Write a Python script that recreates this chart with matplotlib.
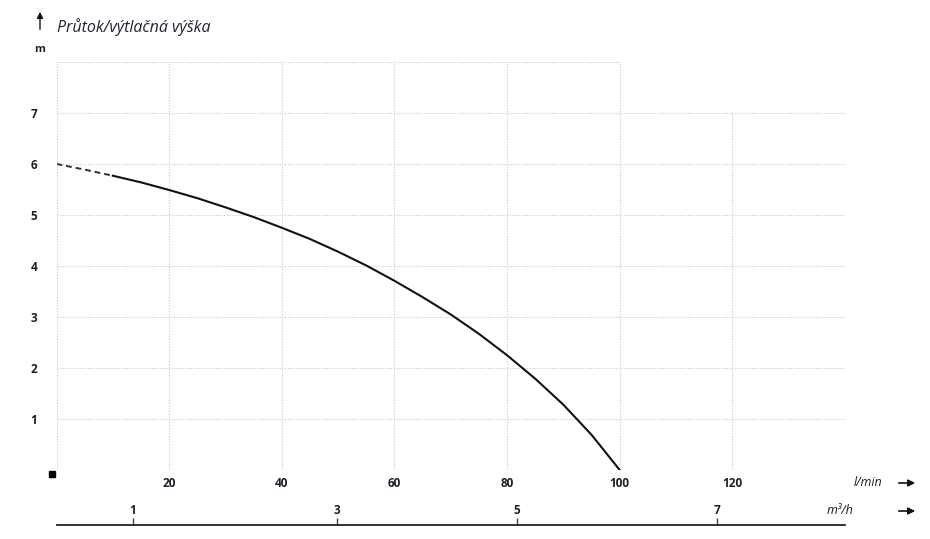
import numpy as np
import matplotlib.pyplot as plt
from matplotlib.lines import Line2D

plt.rcParams['font.family'] = ['Open Sans', 'DejaVu Sans']

# Pump curve (flow l/min vs head m)
flow = [0, 5, 10, 15, 20, 25, 30, 35, 40, 45, 50, 55, 60, 65, 70, 75, 80,
        85, 90, 95, 100]
head = [6.0, 5.89, 5.77, 5.64, 5.49, 5.33, 5.15, 4.96, 4.75, 4.53, 4.28,
        4.01, 3.71, 3.39, 3.05, 2.67, 2.25, 1.79, 1.28, 0.69, 0.0]
dash_end = 10  # curve is dashed below this flow

x_ticks = [20, 40, 60, 80, 100, 120]
y_ticks = [1, 2, 3, 4, 5, 6, 7]
m3h_labels = ['1', '3', '5', '7']
m3h_pos = [13.6, 49.8, 81.8, 117.2]  # positions on the l/min scale

W, H = 930, 539
fig = plt.figure(figsize=(9.3, 5.39), dpi=100)
left, right, bottom, top = 56.5 / W, 845 / W, (H - 470) / H, (H - 62) / H
ax = fig.add_axes([left, bottom, right - left, top - bottom])
ax.set_xlim(0, 140)
ax.set_ylim(0, 8)
for s in ax.spines.values():
    s.set_visible(False)

gkw = dict(color='#c8c8c8', lw=0.8, ls=(0, (1, 1.5)), zorder=0)
for x in [0, 20, 40, 60, 80, 100]:
    ax.plot([x, x], [0, 8], **gkw)
for x in [120, 140]:
    ax.plot([x, x], [0, 7], **gkw)
for y in [0] + y_ticks:
    ax.plot([0, 140], [y, y], **gkw)
ax.plot([0, 100], [8, 8], **gkw)

# curve
f = np.array(flow)
h = np.array(head)
m = f <= dash_end
ax.plot(f[m], h[m], color='#333333', lw=1.4, ls=(0, (3, 2)))
ax.plot(f[f >= dash_end], h[f >= dash_end], color='#111111', lw=1.5,
        solid_joinstyle='round')

tc = '#1e1e2a'
ax.set_xticks(x_ticks)
ax.set_xticklabels([str(v) for v in x_ticks], fontweight='bold', fontsize=8.5, color=tc)
ax.set_yticks(y_ticks)
ax.set_yticklabels([str(v) for v in y_ticks], fontweight='bold', fontsize=8.5, color=tc)
ax.tick_params(axis='x', length=0, pad=5)
ax.tick_params(axis='y', length=0, pad=14)

# second scale m3/h
ax2 = fig.add_axes([left, (H - 525) / H, right - left, 0.0001])
ax2.set_xlim(0, 140)
ax2.set_ylim(0, 1)
for k in ['left', 'right', 'bottom']:
    ax2.spines[k].set_visible(False)
ax2.spines['top'].set_linewidth(1.3)
ax2.spines['top'].set_color('#222222')
ax2.set_yticks([])
ax2.xaxis.tick_top()
ax2.set_xticks(m3h_pos)
ax2.set_xticklabels(m3h_labels, fontweight='bold', fontsize=8.5, color=tc)
ax2.tick_params(axis='x', direction='out', length=5, width=1, color='#444444', pad=1)

# texts
fig.text(57 / W, 1 - 27 / H, 'Průtok/výtlačná výška', style='italic', fontsize=11.5,
         color='#222233', va='center', ha='left')
fig.text(40 / W, 1 - 50 / H, 'm', fontweight='bold', fontsize=8, color=tc, ha='center', va='center')
fig.text(868 / W, 1 - 483 / H, 'l/min', style='italic', fontsize=9, color=tc, ha='center', va='center')
fig.text(840 / W, 1 - 511 / H, 'm³/h', style='italic', fontsize=9, color=tc, ha='center', va='center')

arrow = dict(arrowstyle='-|>', color='#111111', lw=1.2, mutation_scale=10)
for yy in [483, 511]:
    ax.annotate('', xy=(918 / W, 1 - yy / H), xytext=(896 / W, 1 - yy / H),
                xycoords='figure fraction', arrowprops=arrow)
ax.annotate('', xy=(40 / W, 1 - 9 / H), xytext=(40 / W, 1 - 32 / H),
            xycoords='figure fraction', arrowprops=dict(arrowstyle='-|>', color='#111111', lw=1.0, mutation_scale=9))

fig.add_artist(Line2D([52 / W], [1 - 474 / H], marker='s', markersize=4.5, color='black',
                      transform=fig.transFigure))

fig.savefig('out.png', dpi=100)
